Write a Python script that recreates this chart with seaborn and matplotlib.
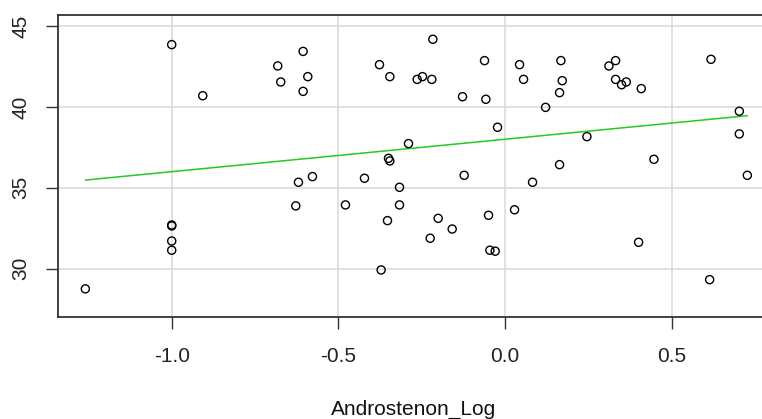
import numpy as np
import pandas as pd
import matplotlib
matplotlib.use("Agg")
import matplotlib.pyplot as plt
import seaborn as sns

# data
androstenon_log = [
    -1.259, -1.0, -1.0, -1.0, -1.0, -1.0, -0.907, -0.682, -0.673, -0.606,
    -0.592, -0.606, -0.620, -0.578, -0.628, -0.479, -0.422, -0.377, -0.346, -0.350,
    -0.346, -0.317, -0.317, -0.353, -0.372, -0.290, -0.264, -0.248, -0.220, -0.217,
    -0.201, -0.225, -0.159, -0.128, -0.123, -0.062, -0.058, -0.050, -0.046, -0.030,
    -0.023, 0.028, 0.043, 0.055, 0.082, 0.121, 0.163, 0.167, 0.171, 0.163,
    0.245, 0.311, 0.331, 0.331, 0.349, 0.363, 0.408, 0.400, 0.446, 0.617,
    0.613, 0.702, 0.702, 0.726,
]
response = [
    28.75, 43.85, 32.70, 32.64, 31.71, 31.14, 40.69, 42.53, 41.54, 43.43,
    41.87, 40.96, 35.34, 35.69, 33.88, 33.94, 35.59, 42.61, 41.87, 36.82,
    36.66, 35.03, 33.94, 32.97, 29.92, 37.73, 41.70, 41.87, 41.70, 44.18,
    33.11, 31.88, 32.45, 40.63, 35.77, 42.86, 40.47, 33.30, 31.14, 31.08,
    38.74, 33.64, 42.61, 41.70, 35.34, 39.97, 40.88, 42.86, 41.62, 36.43,
    38.16, 42.53, 42.86, 41.70, 41.37, 41.54, 41.13, 31.63, 36.76, 42.94,
    29.32, 39.73, 38.33, 35.77,
]
fit_intercept = 38.0
fit_slope = 2.005
x_ticks = [-1.0, -0.5, 0.0, 0.5]
x_tick_labels = ["-1.0", "-0.5", "0.0", "0.5"]
y_ticks = [30, 35, 40, 45]
y_tick_labels = ["30", "35", "40", "45"]

df = pd.DataFrame({"Androstenon_Log": androstenon_log, "y": response})

sns.set_theme(style="white")
plt.rcParams["font.family"] = ["Liberation Sans", "DejaVu Sans"]

fig = plt.figure(figsize=(7.62, 4.19), dpi=100)
ax = fig.add_axes([58 / 762, 1 - 316.7 / 419, 712 / 762, 301.7 / 419])

ax.grid(True, color="#d9d9d9", linewidth=1.1)
ax.set_axisbelow(True)

sns.scatterplot(data=df, x="Androstenon_Log", y="y", ax=ax, marker="o",
                s=34, facecolor="none", edgecolor="black", linewidth=1.0,
                zorder=3)

xs = np.array([min(androstenon_log), max(androstenon_log)])
sns.lineplot(x=xs, y=fit_intercept + fit_slope * xs, ax=ax, color="#22cc22",
             linewidth=1.1, zorder=2)

ax.set_xlim(-1.341, 0.794)
ax.set_ylim(27.03, 45.68)
ax.set_xticks(x_ticks)
ax.set_xticklabels(x_tick_labels)
ax.set_yticks(y_ticks)
ax.set_yticklabels(y_tick_labels, rotation=90, va="center")

ax.tick_params(axis="both", direction="out", length=8.5, width=1.0,
               color="#333333", labelsize=15, labelcolor="#222222",
               left=True, bottom=True)
ax.tick_params(axis="x", pad=13)
ax.tick_params(axis="y", pad=11.5)
for side in ["left", "bottom", "top"]:
    ax.spines[side].set_color("#333333")
    ax.spines[side].set_linewidth(1.3)
ax.spines["right"].set_visible(False)

ax.set_xlabel("Androstenon_Log", fontsize=15, color="#111111", va="baseline")
ax.xaxis.set_label_coords(0.5, -(415 - 316.7) / 301.7)
ax.set_ylabel("")

fig.savefig("out.png", dpi=100)
